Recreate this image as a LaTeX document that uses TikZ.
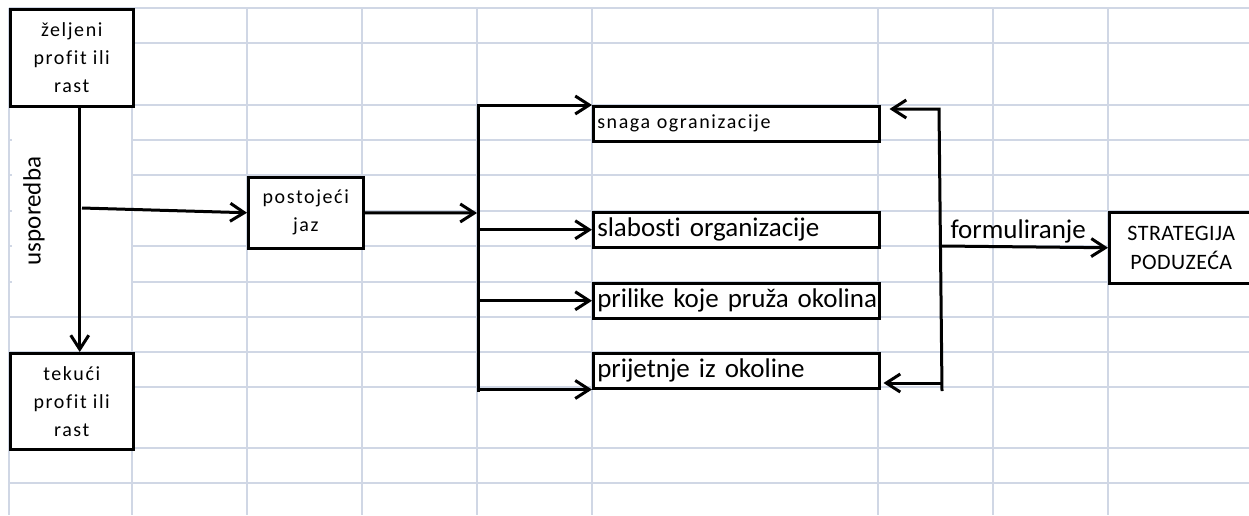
\documentclass[tikz,border=0pt]{standalone}
\usepackage{fontspec}
\setmainfont[Ligatures=NoCommon]{Carlito}
\newfontfamily\spacedfont[LetterSpace=8, Ligatures=NoCommon]{Carlito}
\newfontfamily\capsfont[LetterSpace=2]{Carlito}
\usetikzlibrary{positioning}
\usetikzlibrary{calc}
\usetikzlibrary{arrows.meta}
\definecolor{gridline}{HTML}{D0D7E5}
\newcommand{\celltext}{\spacedfont\fontsize{20}{28}\selectfont}
\newcommand{\bigcelltext}{\fontsize{27}{32}\selectfont}

\begin{document}
\begin{tikzpicture}[x=1pt, y=-1pt,
    cellbox/.style={draw, line width=2.5pt, fill=white, inner sep=0pt, align=center, anchor=north west, font=\celltext},
    swotbox/.style={cellbox, minimum width=286pt, minimum height=35pt, text width=278pt, inner xsep=4pt, align=left, font=\bigcelltext},
    gridrule/.style={draw=gridline, line width=2pt},
    arrowline/.style={->, line width=3pt},
    >={Straight Barb[length=14pt, width=18pt]}]
            \useasboundingbox (0,0) rectangle (1249,515);

            % spreadsheet grid
            \foreach \x in {9,132,247,362,477,592,878,993,1108}
                \draw[gridrule] (\x,8) -- (\x,515);
            \foreach \y in {8,43,105,140,175,246,282,317,352,387,448,483}
                \draw[gridrule] (132,\y) -- (1249,\y);
            \draw[gridrule] (247,211) -- (1249,211);
            \foreach \y in {8,105,317,352,448,483}
                \draw[gridrule] (9,\y) -- (132,\y);
            \foreach \y in {140,175,211,246,282}
                \draw[gridrule] (9,\y) -- ++(3,0);

            \node[cellbox, minimum width=123pt, minimum height=97pt] (zeljeni) at (9,8) {željeni\\profit ili\\rast};
            \node[cellbox, minimum width=123pt, minimum height=96pt] (tekuci) at (9,352) {tekući\\profit ili\\rast};
            \node[cellbox, minimum width=115pt, minimum height=71pt] (jaz) at (247,176) {postojeći\\jaz};
            \node[swotbox, font=\celltext] (snaga) at (592,105) {\mbox{snaga ogranizacije}};
            \node[swotbox] (slabosti) at (592,211) {\mbox{slabosti organizacije}};
            \node[swotbox] (prilike) at (592,282) {\mbox{prilike koje pruža okolina}};
            \node[swotbox] (prijetnje) at (592,352) {\mbox{prijetnje iz okoline}};
            \node[cellbox, minimum width=144pt, minimum height=71pt, font=\capsfont\fontsize{22}{29}\selectfont] (strategija) at (1108,211) {STRATEGIJA\\PODUZEĆA};

            \node[rotate=90, font=\fontsize{25}{30}\selectfont] (usporedba) at (34,211) {usporedba};
            \node[anchor=base west, font=\bigcelltext] (formul) at (947,238) {formuliranje};

            \coordinate (usp_0) at (82,208);
            \coordinate (bus_in) at (477,213);
            \coordinate (bus_top) at (478,105);
            \coordinate (bus_bot) at (478,392);
            \coordinate (fb_top) at (939,109);
            \coordinate (fb_bot) at (942,391);
            \coordinate (fb_low) at (942,383);
            \coordinate (fb_mid) at (942,246);

            \draw[arrowline] ([xshift=8]zeljeni.south) -- ([xshift=8]tekuci.north);
            \draw[arrowline] (usp_0) -- (jaz.west);
            \draw[arrowline] (jaz.east) -- (bus_in);
            \draw[arrowline] (bus_bot) -- (bus_top) -- (snaga.north west);
            \draw[arrowline] (bus_top |- slabosti.west) -- (slabosti.west);
            \draw[arrowline] (bus_top |- prilike.west) -- (prilike.west);
            \draw[arrowline] (bus_top |- prijetnje.south west) -- (prijetnje.south west);
            \draw[arrowline] (fb_bot) -- (fb_top) -- ($(snaga.east |- fb_top)+(9,0)$);
            \draw[arrowline] (fb_low) -- ($(prijetnje.east |- fb_low)+(3,0)$);
            \draw[arrowline] (fb_mid) -- (strategija.west);
        \end{tikzpicture}
\end{document}
